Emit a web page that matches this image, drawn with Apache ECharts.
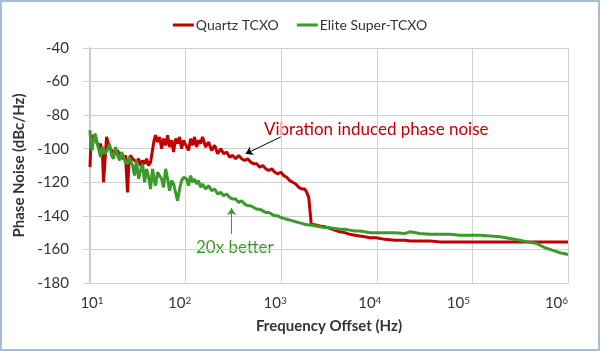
<!DOCTYPE html>
<html>
<head>
<meta charset="utf-8">
<script src="https://cdn.jsdelivr.net/npm/echarts@6/dist/echarts.min.js"></script>
<style>
  html, body { margin: 0; padding: 0; background: #fff; }
  #chart { width: 600px; height: 351px; }
</style>
</head>
<body>
<div id="chart"></div>
<script>
// offset frequency (Hz), shared by both traces
var freqHz = [
    10, 10.24, 10.5, 10.9, 11.3, 11.7, 12.3, 12.9, 13.5, 13.85,
    14.4, 14.9, 15.4, 16.0, 16.8, 17.6, 18.5, 19.4, 20.4, 21.4,
    22.4, 23.5, 24.7, 25.6, 26.5, 27.9, 29.2, 30.7, 32.2, 33.8,
    35.5, 37.2, 39.1, 41.0, 43.0, 45.1, 46.8, 48.5, 50.9, 53.4,
    56.1, 58.8, 61.8, 64.8, 68.0, 71.3, 74.9, 78.5, 82.4, 86.5,
    90.8, 95.3, 98.9,
    102.4, 107.4, 112.7, 118.3, 124.1, 130.2, 136.7, 143.4, 150.5, 161.9,
    174, 187.2, 201.3, 216.4, 232.6, 250.1, 268.9, 289.1, 310.8, 334.1,
    359.2, 386.2, 415.2, 446.4, 479.9, 515.9, 554.7, 596.4, 641.2, 689.3,
    741.1, 796.8, 856.6, 920.9, 990.1,
    1062, 1142, 1227, 1319, 1418, 1525, 1640, 1763, 1849, 1941,
    2013, 2062, 2138, 2298, 2530, 2853, 3218, 3631, 4099, 4624,
    5214, 5888, 6637, 7482, 8453, 9772,
    12130, 15430, 19630, 22170, 28210, 35890, 45670, 58100, 73920, 98850,
    119900, 152500, 194000, 247000, 314200, 372200, 430300, 473500, 509200, 574200,
    648300, 731300, 824700, 1000000
];

var quartzDb = [
    -111, -95, -92, -94, -92, -96, -99, -97, -104, -120,
    -106, -93, -96, -99, -101, -100, -103, -101, -104, -103,
    -106, -104, -126, -107, -104, -106, -105, -108, -106, -110,
    -107, -109, -106, -110, -108, -109, -95, -92, -96, -93,
    -100, -94, -98, -92, -99, -95, -102, -94, -97, -93,
    -100, -95, -97,
    -96, -101, -94, -98, -93, -99, -95, -97, -93, -99,
    -96, -101, -98, -103, -100, -103, -102, -105, -104, -106,
    -104, -106, -107, -106, -108, -109, -109, -111, -110, -112,
    -113, -112, -114, -115, -114,
    -116, -117, -119, -120, -121, -123, -124, -124, -126, -129,
    -130, -145, -145, -145.5, -146, -146.5, -147.5, -148.5, -149.5, -150,
    -151, -151.5, -152, -152.5, -153, -153,
    -154, -154.5, -154.5, -155, -155, -155, -155.5, -155.5, -155.5, -155.5,
    -155.5, -155.5, -155.5, -155.5, -155.5, -155.5, -155.5, -155.5, -155.5, -155.5,
    -155.5, -155.5, -155.5, -155.5
];

var eliteDb = [
    -89, -99, -101, -94, -91, -95, -100, -105, -99, -98,
    -103, -104, -100, -97, -104, -106, -99, -104, -107, -102,
    -103, -108, -109, -105, -104, -110, -116, -107, -118, -113,
    -109, -120, -112, -117, -124, -112, -118, -122, -114, -113,
    -118, -123, -112, -118, -125, -119, -121, -126, -131, -124,
    -119, -117, -118,
    -118, -122, -116, -120, -118, -121, -119, -123, -121, -124,
    -122, -125, -124, -127, -126, -128, -127, -129, -130, -130,
    -132, -131, -133, -134, -134, -135, -136, -136, -137, -138,
    -138, -139, -140, -140, -141,
    -141.5, -142, -142.5, -143, -143.5, -144, -144.5, -145, -145, -145.5,
    -145.5, -145.5, -146, -146, -146.5, -147, -147, -147.5, -148, -148,
    -148.5, -149, -149, -149.5, -150, -150,
    -150, -150, -150.5, -149.5, -150.5, -151, -151, -151, -151.5, -151.5,
    -151.5, -152, -152.5, -153.5, -154.5, -155.5, -156, -156.5, -157.5, -159,
    -160, -161, -162, -163
];

var seriesNames = ['Quartz TCXO', 'Elite Super-TCXO'];
var supDigits = ['', '1', '2', '3', '4', '5', '6'];

function pairs(xs, ys) {
    var out = [];
    for (var i = 0; i < xs.length; i++) {
        out.push([xs[i], ys[i]]);
    }
    return out;
}

var red = '#c00000';
var green = '#3b9a2c';
var txt = '#333333';
var font = 'Lato';

// tick label pieces: "10" plus a raised exponent; padding nudges each label like the original
var base = { fontSize: 15, fontFamily: font, color: txt };
var sup = { fontSize: 10, verticalAlign: 'top', fontFamily: font, color: txt };
function ext(o, p) {
    var r = {};
    for (var k in o) r[k] = o[k];
    r.padding = p;
    return r;
}

var chart = echarts.init(document.getElementById('chart'));

var option = {
    animation: false,
    textStyle: { fontFamily: font },
    grid: { left: 90, right: 32, top: 48, bottom: 68 },
    legend: {
        top: 13,
        left: 'center',
        icon: 'rect',
        itemWidth: 21,
        itemHeight: 3,
        itemGap: 18,
        textStyle: { fontSize: 14, color: txt, fontFamily: font, padding: [0, 0, 0, -3] },
        data: seriesNames
    },
    xAxis: {
        type: 'log',
        logBase: 10,
        min: 10,
        max: 1000000,
        name: 'Frequency Offset (Hz)',
        nameLocation: 'middle',
        nameGap: 36,
        nameTextStyle: { fontSize: 15, fontWeight: 'bold', color: txt, fontFamily: font },
        axisLine: { lineStyle: { color: '#d0d0d0', width: 1 } },
        axisTick: { show: false },
        splitLine: { show: true, lineStyle: { color: '#d0d0d0', width: 1 } },
        minorTick: { show: false },
        axisLabel: {
            margin: 13,
            color: txt,
            formatter: function (v) {
                var e = Math.round(Math.log(v) / Math.LN10);
                return '{b' + e + '|10}{s' + e + '|' + supDigits[e] + '}';
            },
            rich: {
                b1: ext(base, [0, 0, 0, 4]), s1: sup,
                b2: base, s2: ext(sup, [0, 12, 0, 0]),
                b3: base, s3: ext(sup, [0, 12, 0, 0]),
                b4: base, s4: ext(sup, [0, 14, 0, 0]),
                b5: base, s5: ext(sup, [0, 28, 0, 0]),
                b6: base, s6: ext(sup, [0, 23, 0, 0])
            }
        }
    },
    yAxis: {
        type: 'value',
        min: -180,
        max: -40,
        interval: 20,
        name: 'Phase Noise (dBc/Hz)',
        nameLocation: 'middle',
        nameGap: 54,
        nameTextStyle: { fontSize: 15, fontWeight: 'bold', color: txt, fontFamily: font },
        axisLine: { show: true, lineStyle: { color: '#cccccc', width: 2 } },
        axisTick: { show: true, length: 7, lineStyle: { color: '#d0d0d0' } },
        splitLine: { lineStyle: { color: '#d0d0d0', width: 1 } },
        axisLabel: { fontSize: 15, color: txt, margin: 21, fontFamily: font }
    },
    graphic: [
        {
            type: 'rect',
            silent: true,
            shape: { x: 1, y: 1, width: 598, height: 349 },
            style: { fill: 'none', stroke: '#a8bbd9', lineWidth: 2 }
        },
        {
            type: 'text',
            left: 264,
            top: 121,
            style: { text: 'Vibration induced phase noise', fill: red, font: '17px Lato' }
        },
        {
            type: 'text',
            left: 196,
            top: 239,
            style: { text: '20x better', fill: green, font: '17px Lato' }
        }
    ],
    series: [
        {
            name: seriesNames[0],
            type: 'line',
            showSymbol: false,
            color: red,
            lineStyle: { width: 3, color: red },
            data: pairs(freqHz, quartzDb),
            markLine: {
                silent: true,
                symbol: ['none', 'arrow'],
                symbolSize: 7,
                label: { show: false },
                lineStyle: { color: '#000', width: 1, type: 'solid' },
                data: [[{ coord: [989, -93] }, { coord: [425, -103] }]]
            }
        },
        {
            name: seriesNames[1],
            type: 'line',
            showSymbol: false,
            color: green,
            lineStyle: { width: 3, color: green },
            data: pairs(freqHz, eliteDb),
            markLine: {
                silent: true,
                symbol: ['none', 'arrow'],
                symbolSize: 7,
                label: { show: false },
                lineStyle: { color: green, width: 1, type: 'solid' },
                data: [[{ coord: [303, -150.8] }, { coord: [303, -135.3] }]]
            }
        }
    ]
};

chart.setOption(option);
</script>
</body>
</html>
